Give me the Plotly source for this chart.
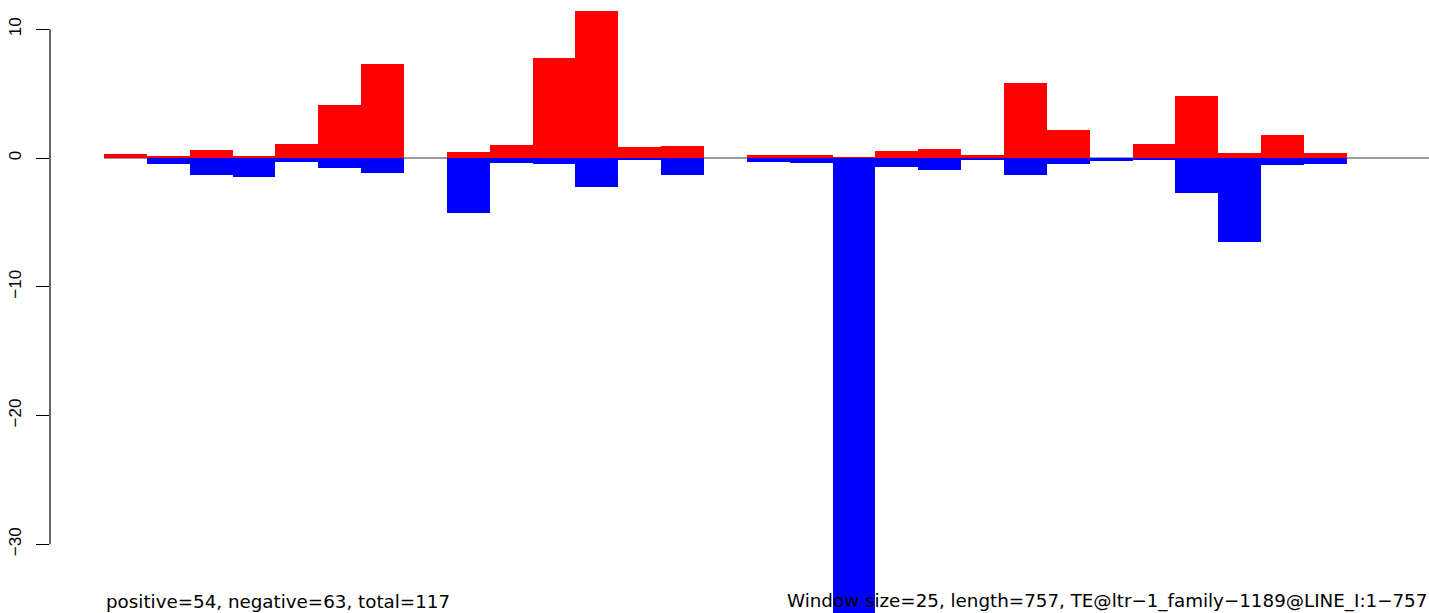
import plotly.graph_objects as go

window_size = 25
window_starts = [i * 25 for i in range(29)]
positive = [0.35, 0.13, 0.62, 0.18, 1.09, 4.12, 7.32, 0.0, 0.47, 1.01, 7.76, 11.41, 0.85, 0.93, 0.0,
            0.23, 0.23, 0.08, 0.54, 0.70, 0.23, 5.82, 2.17, 0.0, 1.09, 4.81, 0.39, 1.79, 0.39]
negative = [0.0, -0.47, -1.30, -1.47, -0.31, -0.78, -1.16, 0.0, -4.25, -0.39, -0.47, -2.25, -0.10, -1.32, 0.0,
            -0.31, -0.39, -37.0, -0.70, -0.93, -0.08, -1.32, -0.47, -0.23, -0.16, -2.72, -6.52, -0.54, -0.47]
y_ticks = [-30, -20, -10, 0, 10]
y_tick_labels = ["\u221230", "\u221220", "\u221210", "0", "10"]
left_text = "positive=54, negative=63, total=117"
right_text = "Window size=25, length=757, TE@ltr\u22121_family\u22121189@LINE_I:1\u2212757"

centers = [s + window_size / 2 for s in window_starts]
FONT = "Liberation Sans, Arial, Helvetica, sans-serif"
TEXT_FONT = "DejaVu Sans, Liberation Sans, sans-serif"

fig = go.Figure()
fig.add_trace(go.Bar(x=centers, y=positive, width=window_size, marker=dict(color="#FF0000", line=dict(width=0)),
                     showlegend=False, hoverinfo="x+y"))
fig.add_trace(go.Bar(x=centers, y=negative, width=window_size, marker=dict(color="#0000FF", line=dict(width=0)),
                     showlegend=False, hoverinfo="x+y"))

fig.add_shape(type="line", xref="x", yref="y", x0=0, x1=800, y0=0, y1=0,
              line=dict(color="#7a7a7a", width=1.3), layer="below")
fig.add_shape(type="line", xref="paper", yref="y", x0=0, x1=0, y0=y_ticks[0], y1=y_ticks[-1],
              line=dict(color="black", width=1.2))

text_y = (613 - 601) / 613
fig.add_annotation(text=left_text, xref="paper", yref="paper", x=(104 - 50) / 1379, y=text_y,
                   xanchor="left", yanchor="middle", showarrow=False,
                   font=dict(family=TEXT_FONT, size=18.3, color="black"))
fig.add_annotation(text=right_text, xref="paper", yref="paper", x=1.0, y=text_y,
                   xanchor="right", yanchor="middle", showarrow=False,
                   font=dict(family=TEXT_FONT, size=18.3, color="black"))

fig.update_layout(
    width=1429, height=613,
    margin=dict(l=50, r=0, t=0, b=0),
    paper_bgcolor="white", plot_bgcolor="white",
    barmode="overlay", bargap=0,
    xaxis=dict(range=[-31.5, 772.9], visible=False, fixedrange=True),
    yaxis=dict(range=[-35.33, 12.27], tickvals=y_ticks, ticktext=y_tick_labels, tickangle=-90,
               ticks="outside", ticklen=13, tickwidth=1.2, tickcolor="black",
               showgrid=False, zeroline=False, showline=False, fixedrange=True,
               ticklabelstandoff=8,
               tickfont=dict(family=FONT, size=17, color="black")),
    font=dict(family=FONT),
)

fig.write_html("out.html", config={"displayModeBar": False},
               post_script="document.body.style.margin='0';document.body.style.overflow='hidden';")
